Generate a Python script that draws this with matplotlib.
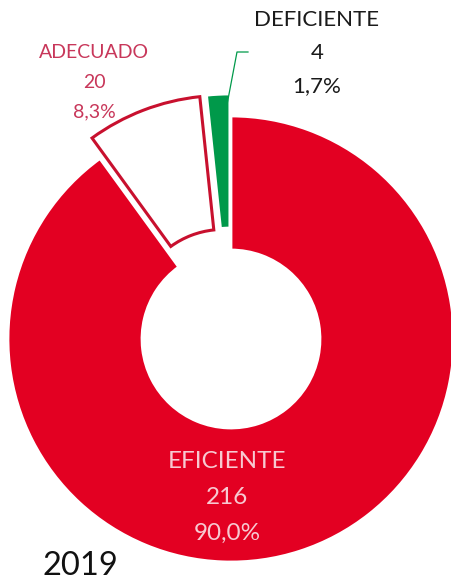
import matplotlib
matplotlib.use("Agg")
import matplotlib.pyplot as plt

# Results for 2019
categories = ["EFICIENTE", "ADECUADO", "DEFICIENTE"]
counts = [216, 20, 4]
year = "2019"

total = sum(counts)
percents = [c / total * 100 for c in counts]

RED = "#E30022"
DARK_RED = "#C8102E"
GREEN = "#00994A"

plt.rcParams["font.family"] = ["Lato", "DejaVu Sans"]

fig = plt.figure(figsize=(4.51, 5.84), dpi=100)
ax = fig.add_axes([0, 0, 1, 1])

outer_r = 223
ring_w = 134
wedges, _ = ax.pie(
    counts,
    radius=outer_r,
    center=(231, -339),
    startangle=90,
    counterclock=False,
    explode=[0, 22, 22],
    colors=[RED, "white", GREEN],
    wedgeprops=dict(width=ring_w, edgecolor="white", linewidth=2),
    frame=True,
)
ax.set_xlim(0, 451)
ax.set_ylim(-584, 0)
ax.set_aspect("equal")
ax.axis("off")

# outlined segment
wedges[1].set_edgecolor(DARK_RED)
wedges[1].set_linewidth(2.2)


def fmt_pct(p):
    return f"{p:.1f}%".replace(".", ",")


def label(x, y, lines, color, size, step):
    for i, t in enumerate(lines):
        ax.text(x, y - i * step, t, color=color, fontsize=size,
                ha="center", va="center")


label(227, -461, [categories[0], str(counts[0]), fmt_pct(percents[0])],
      "#F7C9D1", 17.5, 36)
label(94, -52, [categories[1], str(counts[1]), fmt_pct(percents[1])],
      "#C8375A", 14, 30)
label(317, -20, [categories[2], str(counts[2]), fmt_pct(percents[2])],
      "#1A1A1A", 16, 33)

# leader line for the smallest segment
ax.plot([226, 237, 248], [-110, -52, -52], color=GREEN, lw=0.9)

ax.text(42, -566, year, fontsize=23.5, color="#111111", ha="left", va="center")

fig.savefig("out.png", dpi=100)
